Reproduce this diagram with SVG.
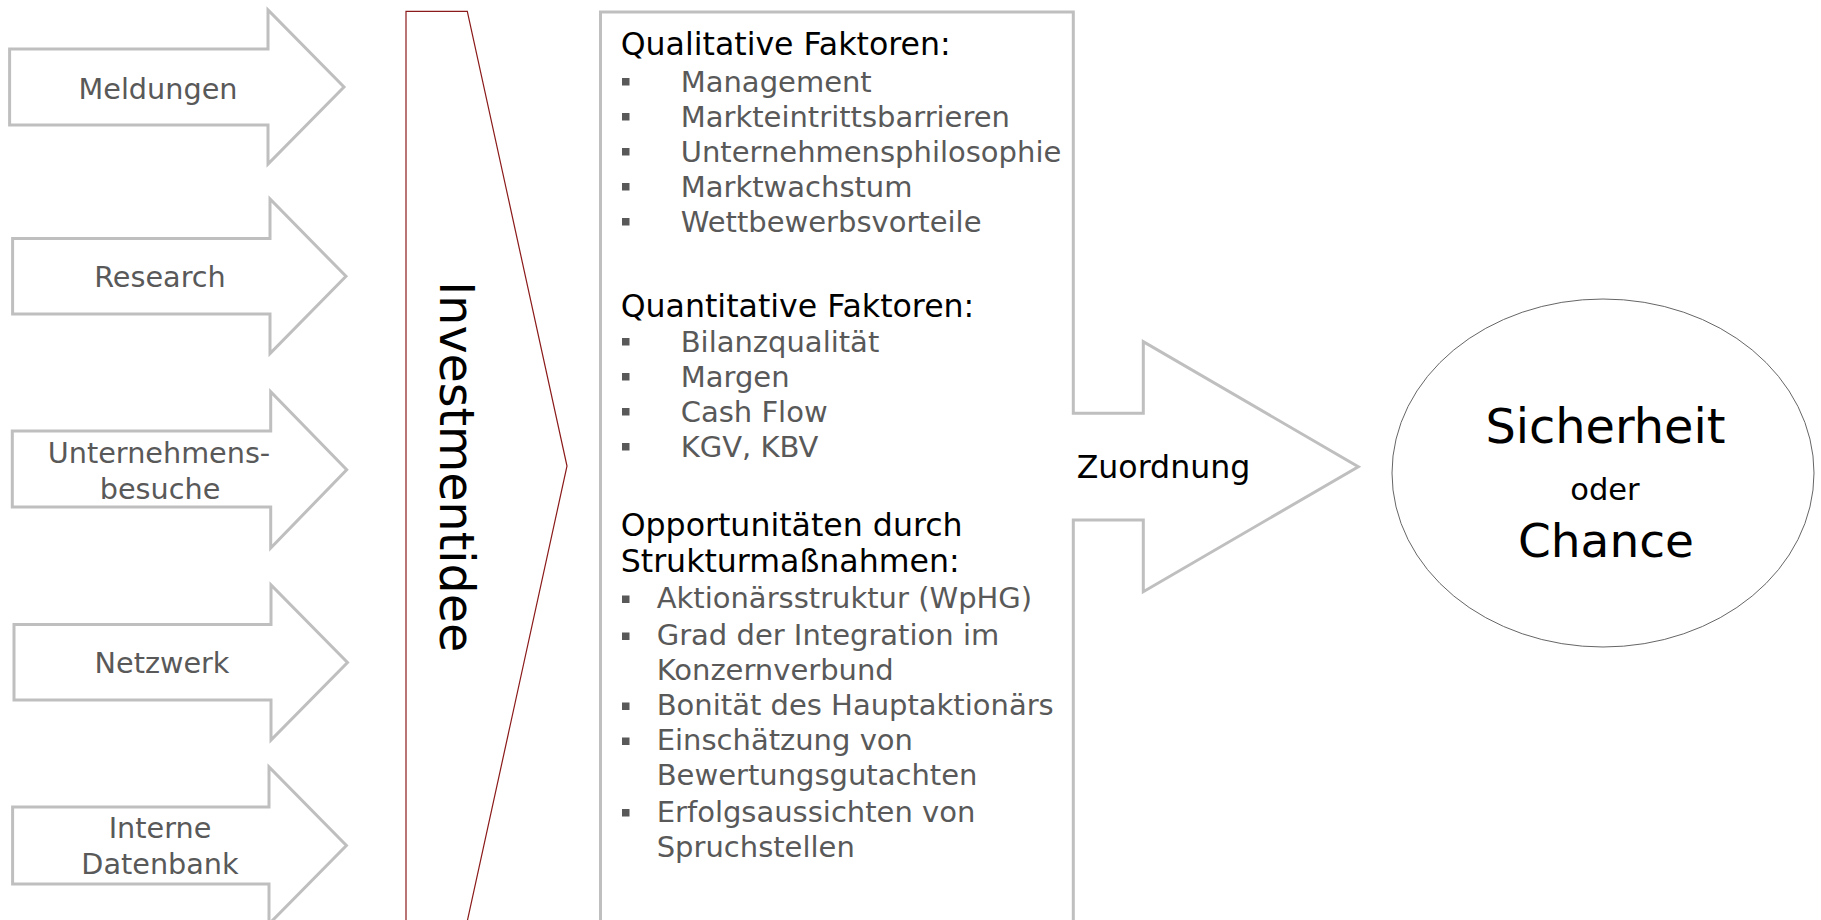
<svg xmlns="http://www.w3.org/2000/svg" width="1821" height="920" viewBox="0 0 1821 920">
<style>
.arr{fill:#fff;stroke:#bfbfbf;stroke-width:3;stroke-linejoin:miter}
.lbl{font-family:"DejaVu Sans","Liberation Sans",sans-serif;font-size:28.7px;fill:#595959;text-anchor:middle}
.hd{font-family:"DejaVu Sans","Liberation Sans",sans-serif;font-size:31.6px;fill:#000}
.it{font-family:"DejaVu Sans","Liberation Sans",sans-serif;font-size:29px;fill:#595959}
.bul{fill:#595959}
.big{font-family:"DejaVu Sans","Liberation Sans",sans-serif;fill:#000;text-anchor:middle}
</style>
<rect width="1821" height="920" fill="#fff"/>

<g id="meldungen">
<polygon class="arr" points="9.6,49 268,49 268,10 344,87 268,164 268,125 9.6,125"/>
<text class="lbl" x="158" y="99">Meldungen</text>
</g>
<g id="research">
<polygon class="arr" points="12.6,238.5 270,238.5 270,199 346,276.3 270,353.5 270,314 12.6,314"/>
<text class="lbl" x="160" y="287">Research</text>
</g>
<g id="unternehmensbesuche">
<polygon class="arr" points="12.3,431 270.7,431 270.7,391.7 346.7,469.8 270.7,548 270.7,507 12.3,507"/>
<text class="lbl" x="159" y="463">Unternehmens-</text>
<text class="lbl" x="160" y="499">besuche</text>
</g>
<g id="netzwerk">
<polygon class="arr" points="14,624.5 271,624.5 271,585 347.5,662.5 271,740 271,700 14,700"/>
<text class="lbl" x="162" y="673">Netzwerk</text>
</g>
<g id="internedatenbank">
<polygon class="arr" points="12.6,807 269,807 269,767 346.4,845.5 269,924 269,884 12.6,884"/>
<text class="lbl" x="160" y="838">Interne</text>
<text class="lbl" x="160" y="874">Datenbank</text>
</g>

<g id="investmentidee">
<polygon points="406,11.3 467.3,11.3 567,466 467.3,921 406,921" fill="#fff" stroke="#8b1a1a" stroke-width="1.2"/>
<text class="big" font-size="47.5" transform="translate(440,466.7) rotate(90)">Investmentidee</text>
</g>

<g id="faktoren">
<polygon class="arr" points="600.5,925 600.5,12 1073.3,12 1073.3,413.3 1143.3,413.3 1143.3,341.7 1358.3,466.7 1143.3,591.7 1143.3,520 1073.3,520 1073.3,925"/>
<text class="hd" x="620.7" y="55">Qualitative Faktoren:</text>
<rect class="bul" x="622" y="78" width="7.5" height="7.5"/><text class="it" x="680.7" y="91.7">Management</text>
<rect class="bul" x="622" y="113" width="7.5" height="7.5"/><text class="it" x="680.7" y="126.7">Markteintrittsbarrieren</text>
<rect class="bul" x="622" y="148" width="7.5" height="7.5"/><text class="it" x="680.7" y="161.7">Unternehmensphilosophie</text>
<rect class="bul" x="622" y="183" width="7.5" height="7.5"/><text class="it" x="680.7" y="196.7">Marktwachstum</text>
<rect class="bul" x="622" y="218" width="7.5" height="7.5"/><text class="it" x="680.7" y="231.7">Wettbewerbsvorteile</text>
<text class="hd" x="620.7" y="316.7">Quantitative Faktoren:</text>
<rect class="bul" x="622" y="338" width="7.5" height="7.5"/><text class="it" x="680.7" y="351.7">Bilanzqualität</text>
<rect class="bul" x="622" y="373" width="7.5" height="7.5"/><text class="it" x="680.7" y="386.7">Margen</text>
<rect class="bul" x="622" y="408" width="7.5" height="7.5"/><text class="it" x="680.7" y="421.7">Cash Flow</text>
<rect class="bul" x="622" y="443" width="7.5" height="7.5"/><text class="it" x="680.7" y="456.7">KGV, KBV</text>
<text class="hd" x="620.7" y="536">Opportunitäten durch</text>
<text class="hd" x="620.7" y="572">Strukturmaßnahmen:</text>
<rect class="bul" x="622" y="595.5" width="7.5" height="7.5"/><text class="it" x="656.7" y="608">Aktionärsstruktur (WpHG)</text>
<rect class="bul" x="622" y="632.5" width="7.5" height="7.5"/><text class="it" x="656.7" y="645">Grad der Integration im</text>
<text class="it" x="656.7" y="680">Konzernverbund</text>
<rect class="bul" x="622" y="702.5" width="7.5" height="7.5"/><text class="it" x="656.7" y="715">Bonität des Hauptaktionärs</text>
<rect class="bul" x="622" y="737.5" width="7.5" height="7.5"/><text class="it" x="656.7" y="750">Einschätzung von</text>
<text class="it" x="656.7" y="785">Bewertungsgutachten</text>
<rect class="bul" x="622" y="809" width="7.5" height="7.5"/><text class="it" x="656.7" y="821.7">Erfolgsaussichten von</text>
<text class="it" x="656.7" y="856.7">Spruchstellen</text>
<text class="hd" font-size="31.2" x="1076.7" y="478.3">Zuordnung</text>
</g>

<g id="ergebnis">
<ellipse cx="1603" cy="473" rx="211" ry="174" fill="#fff" stroke="#666" stroke-width="1"/>
<text class="big" font-size="47.8" x="1605.5" y="443">Sicherheit</text>
<text class="big" font-size="30.5" x="1605" y="500">oder</text>
<text class="big" font-size="47" x="1606" y="557">Chance</text>
</g>

<g id="connectors"></g>
</svg>
